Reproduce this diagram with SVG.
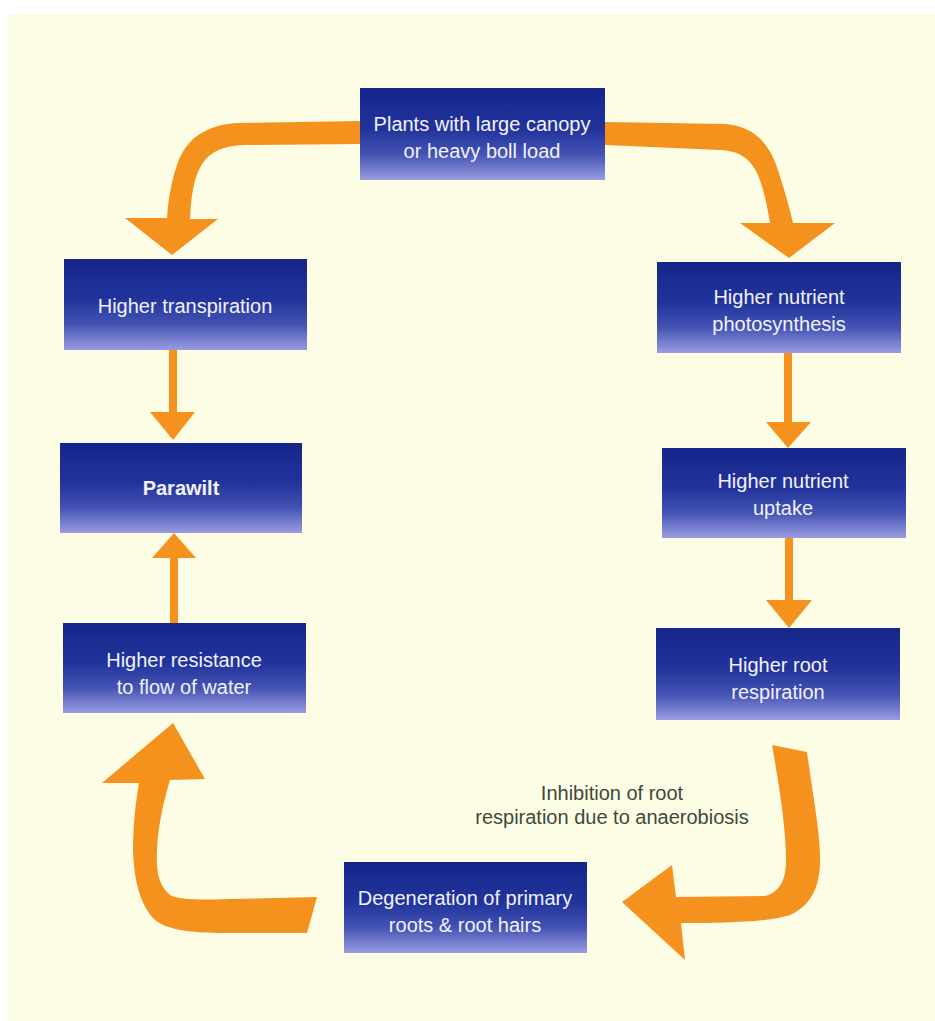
<svg xmlns="http://www.w3.org/2000/svg" width="935" height="1021" viewBox="0 0 935 1021">
  <defs>
    <linearGradient id="boxg" x1="0" y1="0" x2="0" y2="1">
      <stop offset="0" stop-color="#15258A"/>
      <stop offset="0.45" stop-color="#22349C"/>
      <stop offset="0.72" stop-color="#4453B3"/>
      <stop offset="1" stop-color="#9A9CE2"/>
    </linearGradient>
  </defs>
  <style>
    .box { fill: url(#boxg); }
    .bt { font-family: "Liberation Sans", Arial, sans-serif; font-size: 20px; fill: #F2F2FF; text-anchor: middle; }
    .bold { font-weight: bold; }
    .note { font-family: "Liberation Sans", Arial, sans-serif; font-size: 20px; fill: #3C4A3E; text-anchor: middle; }
    .arr { fill: #F5921E; stroke: none; }
  </style>
  <rect x="0" y="0" width="935" height="1021" fill="#FFFFFF"/>
  <rect x="8" y="14" width="927" height="1007" fill="#FDFCE5"/>

  <g id="connectors">
    <!-- top-left curved arrow -->
    <path class="arr" d="M360,121 L240,123 C205,124 185,140 177,165 C170,185 168,205 167,218 L125,218 L172,255 L218,219 L190,219 C191,200 193,180 200,168 C208,152 222,146 245,145 L360,144 Z"/>
    <!-- top-right curved arrow -->
    <path class="arr" d="M605,122 L725,124 C755,126 770,145 778,170 C786,195 790,210 793,223 L835,223 L789,258 L740,223 L770,223 C767,205 764,190 758,175 C750,157 738,151 720,150 L605,145 Z"/>
    <!-- left straight down -->
    <rect class="arr" x="169" y="349" width="8" height="65"/>
    <polygon class="arr" points="150,412 195,412 173,440"/>
    <!-- left straight up -->
    <rect class="arr" x="170" y="556" width="8" height="68"/>
    <polygon class="arr" points="152,558 196,558 174,533"/>
    <!-- right straight 1 -->
    <rect class="arr" x="784" y="352" width="8" height="72"/>
    <polygon class="arr" points="766,422 811,422 788,448"/>
    <!-- right straight 2 -->
    <rect class="arr" x="785" y="537" width="8" height="65"/>
    <polygon class="arr" points="766,600 812,600 789,628"/>
    <!-- bottom-right curved arrow -->
    <path class="arr" d="M772,745 L807,752 C812,790 819,825 820,855 C821,885 812,905 790,915 C770,922 720,923 681,923 L685,960 L622,902 L672,865 L676,897 L765,896 C780,892 786,880 786,860 C786,830 780,790 772,745 Z"/>
    <!-- bottom-left curved arrow -->
    <path class="arr" d="M173,723 L205,779 L170,780 C164,800 158,825 157,850 C156,870 158,885 170,895 C180,900 200,900 230,899 L317,897 L307,933 L230,933 C200,933 170,932 155,920 C140,905 134,880 133,850 C133,825 136,800 139,783 L102,783 Z"/>
  </g>

  <g id="n-plants">
    <rect class="box" x="360" y="88" width="245" height="92"/>
    <text class="bt" x="482" y="131">Plants with large canopy</text>
    <text class="bt" x="482" y="158">or heavy boll load</text>
  </g>
  <g id="n-transpiration">
    <rect class="box" x="64" y="259" width="243" height="91"/>
    <text class="bt" x="185" y="313">Higher transpiration</text>
  </g>
  <g id="n-parawilt">
    <rect class="box" x="60" y="443" width="242" height="90"/>
    <text class="bt bold" x="181" y="495">Parawilt</text>
  </g>
  <g id="n-resistance">
    <rect class="box" x="63" y="623" width="243" height="90"/>
    <text class="bt" x="184" y="667">Higher resistance</text>
    <text class="bt" x="184" y="694">to flow of water</text>
  </g>
  <g id="n-photosynthesis">
    <rect class="box" x="657" y="262" width="244" height="91"/>
    <text class="bt" x="779" y="304">Higher nutrient</text>
    <text class="bt" x="779" y="331">photosynthesis</text>
  </g>
  <g id="n-uptake">
    <rect class="box" x="662" y="448" width="244" height="90"/>
    <text class="bt" x="783" y="488">Higher nutrient</text>
    <text class="bt" x="783" y="515">uptake</text>
  </g>
  <g id="n-respiration">
    <rect class="box" x="656" y="628" width="244" height="92"/>
    <text class="bt" x="778" y="672">Higher root</text>
    <text class="bt" x="778" y="699">respiration</text>
  </g>
  <g id="n-degeneration">
    <rect class="box" x="344" y="862" width="243" height="91"/>
    <text class="bt" x="465" y="905">Degeneration of primary</text>
    <text class="bt" x="465" y="932">roots &amp; root hairs</text>
  </g>
  <g id="label-inhibition">
    <text class="note" x="612" y="800">Inhibition of root</text>
    <text class="note" x="612" y="824">respiration due to anaerobiosis</text>
  </g>
</svg>
